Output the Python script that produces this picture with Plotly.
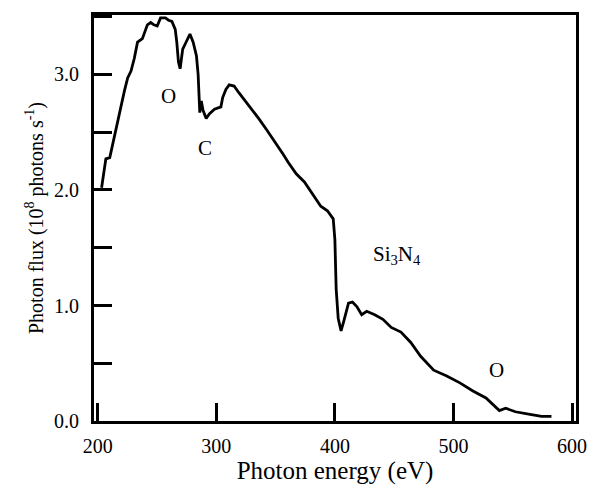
import plotly.graph_objects as go

energy_ev = [203.3, 206.9, 210.2, 212.9, 215.7, 218.5, 222.6, 225.3, 228.1, 230.9,
             233.6, 237.7, 241.9, 244.7, 247.4, 250.2, 253.0, 257.1, 259.8, 262.6,
             265.4, 266.7, 268.1, 269.5, 271.7, 275.0, 277.8, 280.5, 283.3, 284.7,
             285.5, 286.1, 287.4, 288.8, 291.5, 294.3, 298.5, 302.6, 303.9, 305.4,
             308.1, 310.9, 315.0, 319.2, 324.6, 330.2, 335.7, 342.6, 349.5, 356.4,
             360.6, 367.4, 374.3, 381.2, 388.1, 393.7, 398.6, 400.0, 401.1, 402.8,
             405.2, 407.4, 408.8, 411.5, 414.8, 418.5, 422.6, 426.8, 433.6, 440.5,
             447.5, 455.7, 464.0, 472.3, 483.3, 494.3, 505.4, 516.4, 527.4, 535.7,
             538.7, 544.0, 552.2, 563.3, 574.3, 582.6]
flux = [2.02, 2.27, 2.28, 2.41, 2.55, 2.66, 2.86, 2.97, 3.03, 3.14,
        3.28, 3.31, 3.43, 3.45, 3.43, 3.42, 3.49, 3.49, 3.47, 3.46,
        3.39, 3.28, 3.11, 3.05, 3.22, 3.29, 3.35, 3.28, 3.16, 3.00,
        2.72, 2.67, 2.77, 2.69, 2.62, 2.66, 2.70, 2.72, 2.72, 2.80,
        2.87, 2.91, 2.90, 2.84, 2.77, 2.70, 2.62, 2.52, 2.42, 2.31,
        2.24, 2.14, 2.07, 1.96, 1.86, 1.82, 1.75, 1.57, 1.14, 0.89,
        0.78, 0.86, 0.92, 1.02, 1.03, 0.99, 0.92, 0.95, 0.92, 0.88,
        0.81, 0.77, 0.68, 0.56, 0.44, 0.39, 0.33, 0.26, 0.20, 0.12,
        0.09, 0.11, 0.08, 0.06, 0.04, 0.04]

label_text = ["O", "C", "Si<sub>3</sub>N<sub>4</sub>", "O"]
label_x = [259.3, 290.2, 452.5, 536.3]
label_y = [2.81, 2.36, 1.44, 0.44]

x_tick_vals = [200, 300, 400, 500, 600]
y_tick_vals = [0, 1, 2, 3]
y_minor_vals = [0.5, 1.5, 2.5, 3.5]

FONT = "Liberation Serif, Times New Roman, serif"

fig = go.Figure()
fig.add_trace(go.Scatter(x=energy_ev, y=flux, mode="lines",
                         line=dict(color="black", width=2.8), showlegend=False))

for t, x, y in zip(label_text, label_x, label_y):
    fig.add_annotation(x=x, y=y, text=t, showarrow=False,
                       font=dict(family=FONT, size=21, color="black"))

fig.update_layout(
    width=599, height=493,
    margin=dict(l=94, r=14, t=15, b=60),
    paper_bgcolor="white", plot_bgcolor="white",
    font=dict(family=FONT, color="black"),
    xaxis=dict(range=[196.9, 603.3], tickvals=x_tick_vals,
               ticks="inside", ticklen=18, tickwidth=3, tickcolor="black",
               showline=True, linewidth=3, linecolor="black", mirror=True,
               showgrid=False, zeroline=False,
               tickfont=dict(family=FONT, size=20, color="black"),
               ticklabelstandoff=5,
               title=dict(text="Photon energy (eV)", standoff=6,
                          font=dict(family=FONT, size=25, color="black"))),
    yaxis=dict(range=[0, 3.515], tickvals=y_tick_vals, tickformat=".1f",
               ticks="inside", ticklen=18, tickwidth=3, tickcolor="black",
               minor=dict(tickvals=y_minor_vals, ticks="inside", ticklen=18,
                          tickwidth=3, tickcolor="black", showgrid=False),
               showline=True, linewidth=3, linecolor="black", mirror=True,
               showgrid=False, zeroline=False,
               tickfont=dict(family=FONT, size=20, color="black"),
               ticklabelstandoff=8,
               title=dict(text="Photon flux (10<sup>8</sup> photons s<sup>-1</sup>)",
                          standoff=6,
                          font=dict(family=FONT, size=20, color="black"))),
)

fig.write_html("out.html")
